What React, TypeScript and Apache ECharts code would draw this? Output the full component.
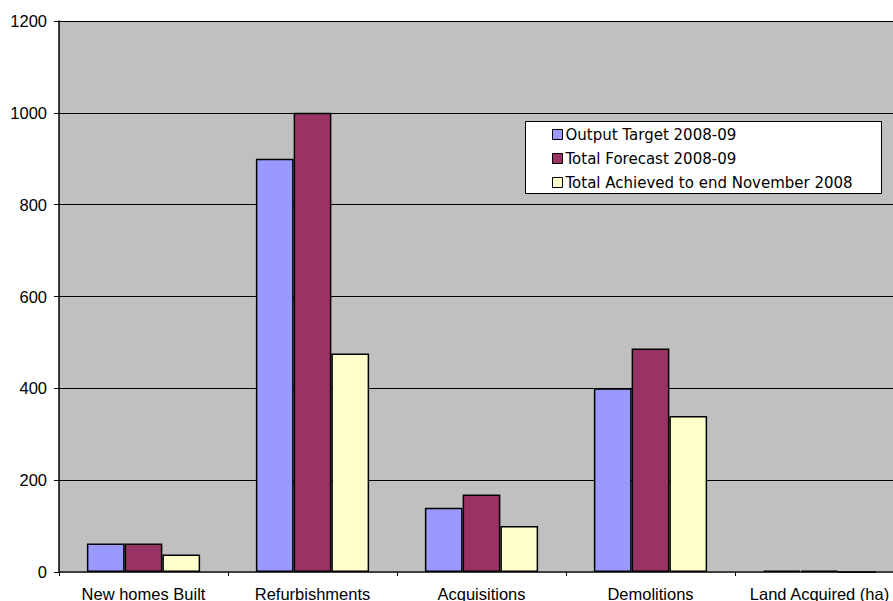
import React, { useEffect, useRef } from "react";
import * as echarts from "echarts";

const categories = ["New homes Built", "Refurbishments", "Acquisitions", "Demolitions", "Land Acquired (ha)"];
const seriesNames = ["Output Target 2008-09", "Total Forecast 2008-09", "Total Achieved to end November 2008"];
const outputTarget = [62, 900, 140, 400, 3];
const totalForecast = [62, 1000, 169, 487, 3];
const totalAchieved = [38, 476, 100, 340, 0];
const seriesColors = ["#9999FF", "#993366", "#FFFFCC"];
const yTicks = { min: 0, max: 1200, interval: 200 };

const FONT = "'Liberation Sans', Arial, sans-serif";
const LEGEND_FONT = "'DejaVu Sans', sans-serif";

export default function App() {
  const ref = useRef<HTMLDivElement>(null);

  useEffect(() => {
    if (!ref.current) return;
    const chart = echarts.init(ref.current, undefined, { renderer: "svg" });
    const values = [outputTarget, totalForecast, totalAchieved];

    chart.setOption({
      animation: false,
      backgroundColor: "#FFFFFF",
      textStyle: { fontFamily: FONT, color: "#000000" },
      grid: {
        left: 59,
        top: 21,
        width: 845,
        height: 551,
        outerBoundsMode: "none",
        containLabel: false,
        show: true,
        backgroundColor: "#C0C0C0",
        borderWidth: 0,
      },
      graphic: [
        {
          type: "rect",
          left: 525,
          top: 121,
          shape: { width: 356, height: 72 },
          style: { fill: "#FFFFFF", stroke: "#000000", lineWidth: 1 },
          z: 10,
        },
      ],
      legend: {
        data: seriesNames,
        orient: "vertical",
        left: 552,
        top: 127,
        padding: 0,
        itemWidth: 10,
        itemHeight: 10,
        itemGap: 9,
        icon: "rect",
        z: 20,
        itemStyle: { borderColor: "#000000", borderWidth: 1 },
        textStyle: { fontFamily: LEGEND_FONT, fontSize: 15, color: "#000000", lineHeight: 15, padding: [0, 0, 0, -2] },
      },
      xAxis: {
        type: "category",
        data: categories,
        axisLine: { show: true, lineStyle: { color: "#404040", width: 2 } },
        axisTick: { show: true, length: 4, lineStyle: { color: "#000000", width: 1 } },
        axisLabel: { margin: 13, fontSize: 16.5, color: "#000000", fontFamily: FONT, interval: 0 },
        splitLine: { show: false },
      },
      yAxis: {
        type: "value",
        min: yTicks.min,
        max: yTicks.max,
        interval: yTicks.interval,
        axisLine: { show: true, lineStyle: { color: "#000000", width: 1.5 } },
        axisTick: { show: true, length: 5, lineStyle: { color: "#000000" } },
        axisLabel: {
          margin: 12,
          fontSize: 16.5,
          color: "#000000",
          fontFamily: FONT,
          formatter: (v: number) => String(v),
        },
        splitLine: { show: true, lineStyle: { color: "#000000", width: 1 } },
      },
      series: seriesNames.map((name, i) => ({
        name,
        type: "bar",
        data: values[i],
        barGap: "0%",
        barCategoryGap: "33%",
        itemStyle: { color: seriesColors[i], borderColor: "#000000", borderWidth: 1.5 },
      })),
    });

    return () => chart.dispose();
  }, []);

  return (
    <div
      ref={ref}
      style={{ position: "fixed", left: 0, top: 0, width: 893, height: 601 }}
    />
  );
}
